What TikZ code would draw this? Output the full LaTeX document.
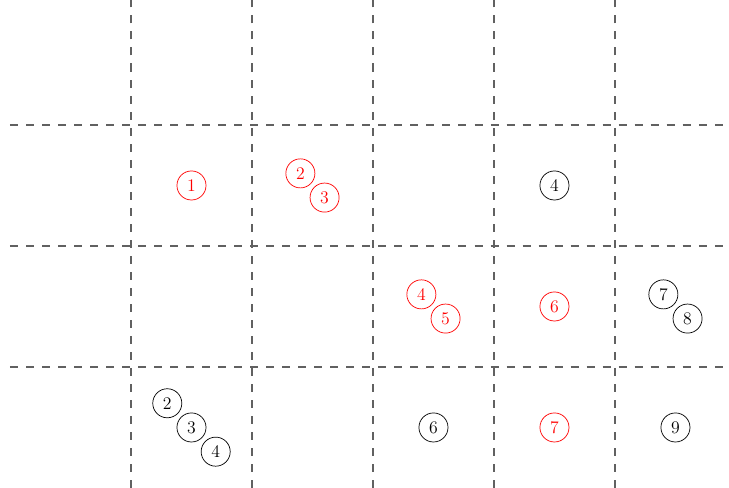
\documentclass[tikz,border=0pt]{standalone}
\begin{document}
\begin{tikzpicture}[x=3cm,y=3cm,
  gridline/.style={draw=black!62, line width=0.8pt, dash pattern=on 5.65pt off 5.65pt},
  circ/.style={circle, inner sep=0pt, minimum size=20.5pt, line width=0.5pt, font=\fontsize{12.5}{14}\selectfont},
  rc/.style={circ, draw=red, text=red},
  bc/.style={circ, draw=black}]
\useasboundingbox (-0.0826,0) rectangle (5.9425,4.033);
\foreach \i in {1,...,5} \draw[gridline] (\i,0) -- (\i,4.033);
\foreach \j in {1,2,3} \draw[gridline] (0,\j) -- (5.9425,\j);
% red
\node[rc] (r1) at (1.5,2.5) {1};
\node[rc] (r2) at (2.4,2.6) {2};
\node[rc] (r3) at (2.6,2.4) {3};
\node[rc] (r4) at (3.4,1.6) {4};
\node[rc] (r5) at (3.6,1.4) {5};
\node[rc] (r6) at (4.5,1.5) {6};
\node[rc] (r7) at (4.5,0.5) {7};
% black
\node[bc] (b4) at (4.5,2.5) {4};
\node[bc] (b7) at (5.4,1.6) {7};
\node[bc] (b8) at (5.6,1.4) {8};
\node[bc] (b2) at (1.3,0.7) {2};
\node[bc] (b3) at (1.5,0.5) {3};
\node[bc] (b4b) at (1.7,0.3) {4};
\node[bc] (b6) at (3.5,0.5) {6};
\node[bc] (b9) at (5.5,0.5) {9};
\end{tikzpicture}
\end{document}
